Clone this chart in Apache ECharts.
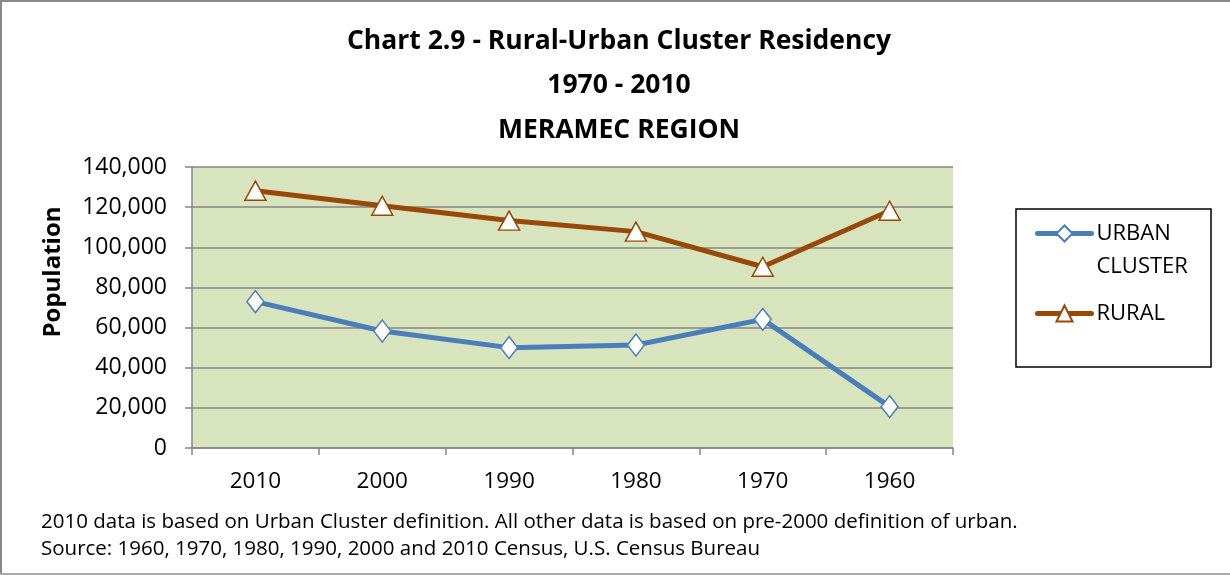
<!DOCTYPE html>
<html>
<head>
<meta charset="utf-8">
<script src="https://cdn.jsdelivr.net/npm/echarts@6/dist/echarts.min.js"></script>
<style>
  html, body { margin: 0; padding: 0; background: #fff; }
  #chart { width: 1230px; height: 575px; }
</style>
</head>
<body>
<div id="chart"></div>
<script>
const years = ['2010', '2000', '1990', '1980', '1970', '1960']
const urbanCluster = [72900, 58300, 50000, 51300, 64100, 20600]
const rural = [128200, 120700, 113300, 107800, 90300, 118200]
const yTicks = [0, 20000, 40000, 60000, 80000, 100000, 120000, 140000]

const font = '"Open Sans", Lato, sans-serif'
const gridColor = '#868686'

const chart = echarts.init(document.getElementById('chart'))
chart.setOption({
  animation: false,
  backgroundColor: '#fff',
  textStyle: { fontFamily: font, color: '#000' },
  title: {
    text: 'Chart 2.9 - Rural-Urban Cluster Residency\n1970 - 2010\nMERAMEC REGION',
    left: 614,
    top: 14,
    textAlign: 'center',
    textStyle: { fontFamily: font, fontSize: 26.5, fontWeight: 'bold', lineHeight: 44.5, color: '#000' }
  },
  legend: {
    orient: 'vertical',
    left: 1035,
    top: 184,
    padding: 0,
    itemWidth: 54,
    itemHeight: 20,
    itemGap: 14,
    lineStyle: { width: 5, cap: 'round' },
    textStyle: { fontFamily: font, fontSize: 22, lineHeight: 33, color: '#000' },
    data: ['URBAN CLUSTER', 'RURAL'],
    // blank first line keeps URBAN level with the icon
    formatter: name => name === 'URBAN CLUSTER' ? ' \nURBAN\nCLUSTER' : name
  },
  grid: { left: 192, right: 277, top: 167, bottom: 127 },
  xAxis: {
    type: 'category',
    data: years,
    boundaryGap: true,
    axisLine: { lineStyle: { color: gridColor, width: 1.5 } },
    axisTick: { show: true, length: 7, interval: 0, lineStyle: { color: gridColor, width: 1.5 } },
    axisLabel: { fontFamily: font, fontSize: 22.5, color: '#000', margin: 22 }
  },
  yAxis: {
    type: 'value',
    min: yTicks[0],
    max: yTicks[yTicks.length - 1],
    interval: 20000,
    axisLine: { show: true, lineStyle: { color: gridColor, width: 1.5 } },
    axisTick: { show: true, length: 7, lineStyle: { color: gridColor, width: 1.5 } },
    axisLabel: {
      fontFamily: font, fontSize: 23, color: '#000', margin: 25,
      formatter: v => v.toLocaleString('en-US')
    },
    splitLine: { show: true, lineStyle: { color: gridColor, width: 1.5 } },
    splitArea: { show: true, areaStyle: { color: ['#d7e4bd'] } }
  },
  series: [
    {
      name: 'URBAN CLUSTER',
      type: 'line',
      data: urbanCluster,
      symbol: 'diamond',
      symbolSize: [17, 22],
      lineStyle: { color: '#4a7ebb', width: 5 },
      itemStyle: { color: '#fff', borderColor: '#4a7ebb', borderWidth: 1.5 },
      z: 3
    },
    {
      name: 'RURAL',
      type: 'line',
      data: rural,
      symbol: 'triangle',
      symbolSize: [21, 19],
      lineStyle: { color: '#984807', width: 5 },
      itemStyle: { color: '#fff', borderColor: '#984807', borderWidth: 1.5 },
      z: 3
    }
  ],
  graphic: [
    { type: 'rect', shape: { x: 1016, y: 209, width: 195, height: 158 }, style: { fill: 'none', stroke: '#000', lineWidth: 1.5 }, z: -1 },
    { type: 'line', shape: { x1: 0, y1: 1, x2: 1230, y2: 1 }, style: { stroke: '#888', lineWidth: 2 } },
    { type: 'line', shape: { x1: 1, y1: 0, x2: 1, y2: 575 }, style: { stroke: '#888', lineWidth: 2 } },
    { type: 'line', shape: { x1: 0, y1: 574, x2: 1230, y2: 574 }, style: { stroke: '#aaa', lineWidth: 2 } },
    {
      type: 'text', x: 53, y: 272, rotation: Math.PI / 2,
      style: { text: 'Population', fontFamily: font, fontSize: 24, fontWeight: 'bold', fill: '#000', align: 'center', verticalAlign: 'middle' }
    },
    {
      type: 'text', left: 41, top: 509,
      style: {
        text: '2010 data is based on Urban Cluster definition. All other data is based on pre-2000 definition of urban.\nSource: 1960, 1970, 1980, 1990, 2000 and 2010 Census, U.S. Census Bureau',
        fontFamily: font, fontSize: 20.5, lineHeight: 27, fill: '#000'
      }
    }
  ]
})
</script>
</body>
</html>
